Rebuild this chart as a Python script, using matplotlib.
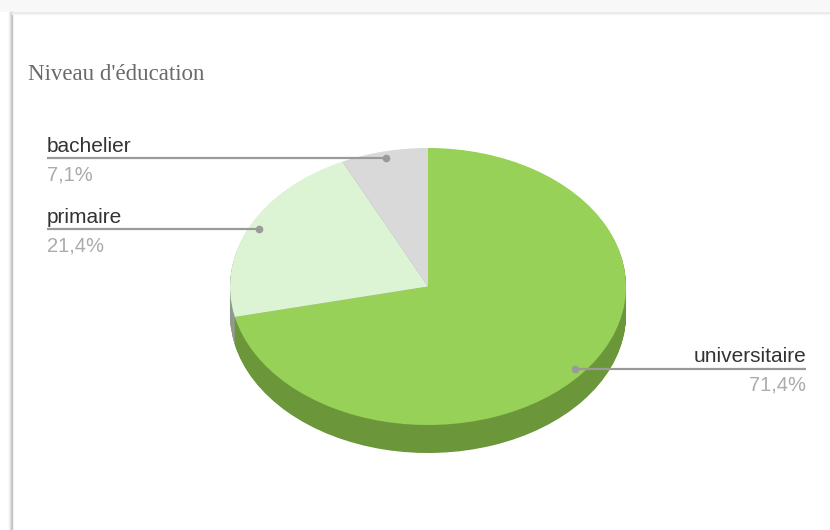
import numpy as np
import matplotlib
matplotlib.use("Agg")
import matplotlib.pyplot as plt
from matplotlib.lines import Line2D

# Data
categories = ["universitaire", "primaire", "bachelier"]
values = [71.4, 21.4, 7.1]
pct_labels = ["71,4%", "21,4%", "7,1%"]
title = "Niveau d'éducation"

top_colors = ["#97d157", "#dcf3d4", "#d9d9d9"]
side_colors = ["#6b973a", "#8f9a8a", "#a0a0a0"]

W, H = 830, 530
DPI = 100
fig = plt.figure(figsize=(W / DPI, H / DPI), dpi=DPI)
fig.patch.set_facecolor("white")

# Card frame (pixel overlay, y downward)
bg = fig.add_axes([0, 0, 1, 1])
bg.set_xlim(0, W)
bg.set_ylim(H, 0)
bg.axis("off")
bg.add_patch(plt.Rectangle((0, 0), W, 12, color="#f8f8f8", lw=0, zorder=0))
for i, c in enumerate(["#f2f2f2", "#e4e4e4", "#d0d0d0", "#c2c2c2"]):
    bg.add_line(Line2D([9 + i, 9 + i], [12, H], color=c, lw=1, zorder=1))
bg.add_line(Line2D([12, W], [12.5, 12.5], color="#e8e8e8", lw=1.2, zorder=1))
bg.add_line(Line2D([12, W], [14, 14], color="#f4f4f4", lw=1, zorder=1))

bg.text(28, 80, title, fontsize=16.5, family="Liberation Serif",
        color="#6a6a6a", ha="left", va="baseline")

# Pie geometry in pixels
cx, cy, rx, ry, depth = 428, 286.5, 198, 138.5, 28
ax = fig.add_axes([(cx - rx) / W, (H - cy - ry) / H, 2 * rx / W, 2 * ry / H])
ax.axis("off")

d_data = depth / ry
steps = 40
for k in range(steps, 0, -1):
    off = d_data * k / steps
    ax.pie(values, colors=side_colors, startangle=90, counterclock=False,
           radius=1, center=(0, -off), wedgeprops=dict(linewidth=0))
ax.pie(values, colors=top_colors, startangle=90, counterclock=False,
       radius=1, center=(0, 0), wedgeprops=dict(linewidth=0))
ax.set_aspect("auto")
ax.set_xlim(-1, 1)
ax.set_ylim(-1, 1)


def px_to_data_x(px):
    return (px - cx) / rx


def data_to_px_y(dy):
    return cy - dy * ry


# Leader lines and labels
total = sum(values)
cum = 0.0
left_x, right_x = 47, 806
for name, v, pct in zip(categories, values, pct_labels):
    mid = (cum + v / 2) / total * 2 * np.pi  # clockwise from 12 o'clock
    cum += v
    dx = 0.95 * np.sin(mid)
    dy = 0.95 * np.cos(mid)
    ly = data_to_px_y(dy)
    if dx < 0:
        end = px_to_data_x(left_x)
        tx, ha = left_x, "left"
    else:
        end = px_to_data_x(right_x)
        tx, ha = right_x, "right"
    ax.plot([dx, end], [dy, dy], color="#9a9a9a", lw=1.6, clip_on=False,
            solid_capstyle="butt", zorder=5)
    ax.plot([dx], [dy], "o", color="#9a9a9a", ms=4.5, clip_on=False, zorder=6)
    bg.text(tx, ly - 6.5, name, fontsize=15, family="Liberation Sans",
            color="#333333", ha=ha, va="baseline", zorder=7)
    bg.text(tx, ly + 7, pct, fontsize=14.5, family="Liberation Sans",
            color="#ababab", ha=ha, va="top", zorder=7)

fig.savefig("out.png", dpi=DPI, facecolor="white")
